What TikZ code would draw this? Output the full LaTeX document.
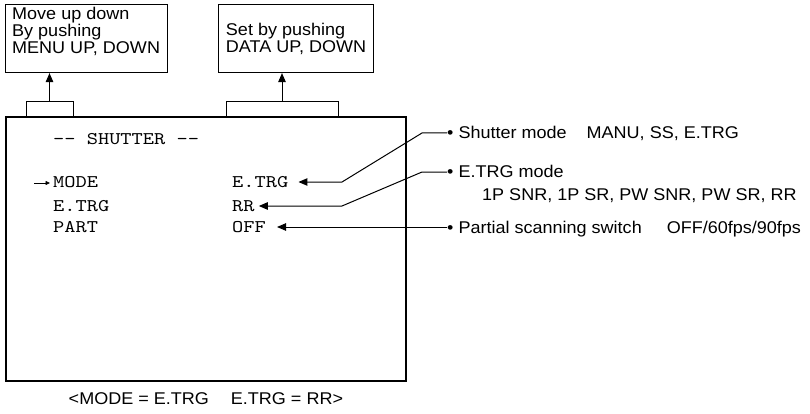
\documentclass[tikz,border=0pt]{standalone}
\usepackage{fontspec}
\setmainfont{Liberation Sans}[FakeStretch=1.06]
\newfontfamily\screenfont{lmmono10-regular.otf}[FakeStretch=1.2]
\usetikzlibrary{arrows.meta, positioning}

\begin{document}
\begin{tikzpicture}[x=1pt, y=-1pt,
		every node/.style={inner sep=0pt, font=\fontsize{17}{17}\selectfont},
		infobox/.style={draw, rectangle, line width=1.1pt, anchor=north west, minimum height=68pt},
		screenbox/.style={draw, rectangle, line width=1.8pt, anchor=north west},
		menuitem/.style={anchor=base west, font=\screenfont\fontsize{17.8}{17.8}\selectfont, text height=10pt, text depth=0pt},
		note/.style={anchor=base west, text height=12pt, text depth=0pt},
		pointer/.style={line width=1pt, -{Triangle[length=9pt, width=7.5pt]}}]
	\useasboundingbox (0,0) rectangle (810,414);
	% boxes with the keys
	\node (menu) [infobox, minimum width=162pt] at (5,4) {};
	\node (menutext) [anchor=north west, align=left] at ([xshift=7pt, yshift=-2.5pt]menu.north west) {
		Move up down\\
		By pushing\\
		MENU UP, DOWN
	};
	\node (data) [infobox, minimum width=155pt, align=left] at (218,4) {
		Set by pushing\\
		DATA UP, DOWN
	};
	% screen
	\node (screen) [screenbox, minimum width=400pt, minimum height=264pt] at (5,116) {};
	\node (title) [menuitem] at (53,145) {-{}- SHUTTER -{}-};
	\node (modelab) [menuitem] at (53,187) {MODE};
	\node (trglab) [menuitem] at (53,211) {E.TRG};
	\node (partlab) [menuitem] at (53,232) {PART};
	\node (modeval) [menuitem] at (232,187) {E.TRG};
	\node (trgval) [menuitem] at (232,211) {RR};
	\node (partval) [menuitem] at (232,232) {OFF};
	\draw [line width=0.8pt, -{Triangle[length=4.5pt, width=4pt]}] ([xshift=-19pt, yshift=-1pt]modelab.west) -- ([xshift=-3pt, yshift=-1pt]modelab.west);
	\node (caption) [below=11pt of screen] {<MODE = E.TRG\hspace{22pt}E.TRG = RR>};
	% notes on the right
	\node (shutnote) [note] at (447,139) {\textbullet\ Shutter mode\hspace{20pt}MANU, SS, E.TRG};
	\node (trgnote) [note] at (447,178) {\textbullet\ E.TRG mode};
	\node (trglist) [note] at (482,200) {1P SNR, 1P SR, PW SNR, PW SR, RR};
	\node (partnote) [note] at (447,233) {\textbullet\ Partial scanning switch\hspace{25pt}OFF/60fps/90fps};
	% brackets and arrows
	\coordinate (menuL) at (26,102);
	\coordinate (menuR) at (73,102);
	\coordinate (menubrk) at (49.5,102);
	\coordinate (dataL) at (226,102);
	\coordinate (dataR) at (338,102);
	\coordinate (databrk) at (282,102);
	\coordinate (bendx) at (342,0);
	\draw [line width=1pt] (menuL |- screen.north) -- (menuL) -- (menuR) -- (menuR |- screen.north);
	\draw [line width=1pt] (dataL |- screen.north) -- (dataL) -- (dataR) -- (dataR |- screen.north);
	\draw [pointer] (menubrk) -- (menubrk |- menu.south);
	\draw [pointer] (databrk) -- (databrk |- data.south);
	\draw [pointer] (shutnote.west) -- ++(-25,0) -- (bendx |- modeval.east) -- ([xshift=10pt]modeval.east);
	\draw [pointer] (trgnote.west) -- ++(-25,0) -- (bendx |- trgval.east) -- ([xshift=4pt]trgval.east);
	\draw [pointer] (partnote.west) -- ([xshift=11pt]partval.east);
\end{tikzpicture}
\end{document}
